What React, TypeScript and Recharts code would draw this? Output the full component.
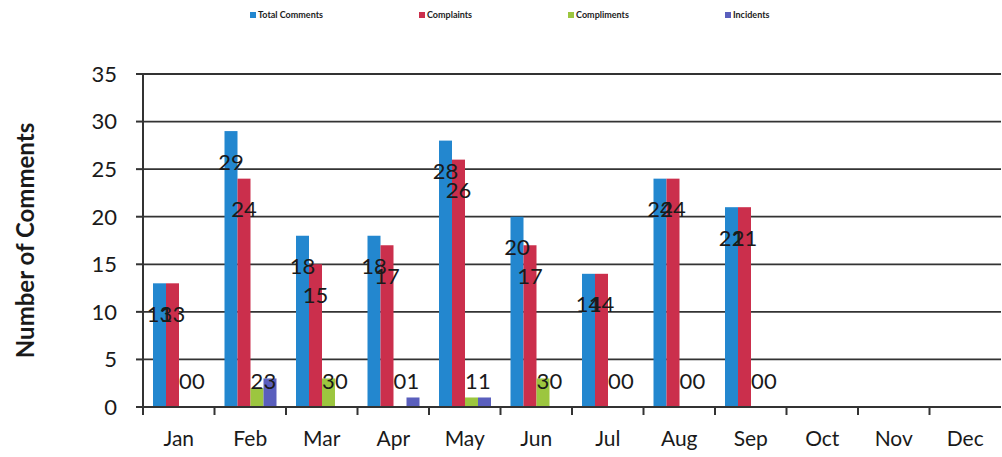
import React from 'react';
import { BarChart, Bar, XAxis, YAxis, CartesianGrid } from 'recharts';

const months = ['Jan', 'Feb', 'Mar', 'Apr', 'May', 'Jun', 'Jul', 'Aug', 'Sep', 'Oct', 'Nov', 'Dec'];
const totalComments = [13, 29, 18, 18, 28, 20, 14, 24, 21, null, null, null];
const complaints = [13, 24, 15, 17, 26, 17, 14, 24, 21, null, null, null];
const compliments = [0, 2, 3, 0, 1, 3, 0, 0, 0, null, null, null];
const incidents = [0, 3, 0, 1, 1, 0, 0, 0, 0, null, null, null];
const yTicks = [0, 5, 10, 15, 20, 25, 30, 35];

const seriesNames = ['Total Comments', 'Complaints', 'Compliments', 'Incidents'];
const seriesKeys = ['total', 'complaints', 'compliments', 'incidents'];
const seriesColors = ['#2387cf', '#cb2f4c', '#9cc63f', '#5a5fbd'];

const data = months.map((m, i) => ({
    month: m,
    total: totalComments[i],
    complaints: complaints[i],
    compliments: compliments[i],
    incidents: incidents[i],
}));

const FONT = 'Lato, "Open Sans", sans-serif';
const CAT_WIDTH = 858 / 12;

// labels sit ~30px under the bar top, but never lower than just above the baseline
const renderValueLabel = (props: any) => {
    const { x, y, width, height, value } = props;
    if (value === null || value === undefined) return null;
    const cy = Math.min(Number(y) + 30, Number(y) + Number(height || 0) - 27);
    return (
        <text x={Number(x) + Number(width) / 2} y={cy} textAnchor="middle" dominantBaseline="central"
            fontFamily={FONT} fontSize={22} fill="#1a1a1a">
            {value}
        </text>
    );
};

// zero bars get minPointSize so their labels show, but nothing is drawn for them
const makeShape = (key: string, color: string) => (props: any) => {
    const v = props.payload ? props.payload[key] : null;
    if (!v) return <g />;
    return <rect x={props.x} y={props.y} width={props.width} height={props.height} fill={color} />;
};

// month label in the middle, tick mark at the left edge of each category
const MonthTick = (props: any) => {
    const { x, y, payload } = props;
    const left = x - CAT_WIDTH / 2;
    return (
        <g>
            <line x1={left} x2={left} y1={407} y2={415} stroke="#333" strokeWidth={2} />
            <text x={x} y={y} dy={31} textAnchor="middle" fontFamily={FONT} fontSize={21} fill="#1a1a1a">
                {payload.value}
            </text>
        </g>
    );
};

export default function App() {
    return (
        <div style={{ position: 'fixed', left: 0, top: 0, width: 1002, height: 457, background: '#fff', overflow: 'hidden' }}>
            {/* legend */}
            <div style={{ position: 'absolute', top: 9, left: 250, display: 'flex', gap: 96, fontFamily: FONT, fontSize: 9, fontWeight: 700, color: '#222' }}>
                {seriesNames.map((n, i) => (
                    <div key={n} style={{ display: 'flex', alignItems: 'center', gap: 2 }}>
                        <span style={{ display: 'inline-block', width: 6, height: 6, background: seriesColors[i] }} />
                        <span>{n}</span>
                    </div>
                ))}
            </div>

            <BarChart width={1002} height={457} data={data}
                margin={{ top: 74, right: 1, bottom: 10, left: 83 }}
                barCategoryGap={10} barGap={0}>
                <CartesianGrid vertical={false} stroke="#333" strokeWidth={1.8} />
                <XAxis dataKey="month" axisLine={{ stroke: '#333', strokeWidth: 2 }} tickLine={false}
                    tick={<MonthTick />} height={40} interval={0} />
                <YAxis domain={[0, 35]} ticks={yTicks} width={60}
                    axisLine={{ stroke: '#333', strokeWidth: 2 }}
                    tickLine={{ stroke: '#333', strokeWidth: 2 }} tickSize={7} tickMargin={19}
                    tick={{ fontFamily: FONT, fontSize: 22, fill: '#1a1a1a' }}
                    label={{
                        value: 'Number of Comments', angle: -90, position: 'insideLeft',
                        offset: -58, style: { fontFamily: FONT, fontSize: 24, fontWeight: 700, fill: '#1a1a1a', textAnchor: 'middle' },
                    }} />
                {seriesKeys.map((k, i) => (
                    <Bar key={k} dataKey={k} name={seriesNames[i]} fill={seriesColors[i]}
                        minPointSize={1} shape={makeShape(k, seriesColors[i])}
                        isAnimationActive={false} label={renderValueLabel} />
                ))}
            </BarChart>
        </div>
    );
}
